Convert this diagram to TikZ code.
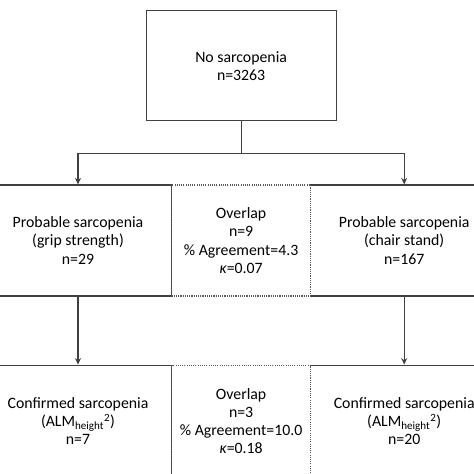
\documentclass[tikz,border=0pt]{standalone}
\usepackage{fontspec}
\setmainfont{Carlito}
\usepackage{tikz}
\usetikzlibrary{arrows.meta, positioning, calc}
\tikzset{every node/.append style={align=center, inner sep=3pt}}

\begin{document}
\begin{tikzpicture}[
    x=1pt, y=1pt,
    box/.style={rectangle, draw=black!75, fill=white, line width=1.2pt,
        minimum width=188pt, minimum height=111pt,
        font=\fontsize{15.8}{18.2}\selectfont},
    ovbox/.style={rectangle, draw=black!65, fill=white, line width=1.2pt,
        dash pattern=on 1.1pt off 1.1pt, minimum width=139pt, minimum height=111pt,
        font=\fontsize{15.8}{18.2}\selectfont},
    line/.style={line width=1.2pt, black!75},
    arr/.style={-{Stealth[length=6.5pt, width=6pt]}, line width=1.2pt, black!75}
]
\useasboundingbox (0,0) rectangle (474,474);
\clip (0,0) rectangle (474,474);
% probable sarcopenia (middle row)
\node[box] (pgrip) at (78,233.5) {Probable sarcopenia\\(grip strength)\\n=29};
\node[box, right=137pt of pgrip] (pchair) {Probable sarcopenia\\(chair stand)\\n=167};
\node[ovbox] (ovprob) at ($(pgrip.east)!0.5!(pchair.west)$)
    {Overlap\\n=9\\\% Agreement=4.3\\\textit{κ}=0.07};
% no sarcopenia (top)
\node[box, minimum width=190pt, minimum height=110pt, above=63pt of ovprob] (nosarc)
    {No sarcopenia\\n=3263};
% confirmed sarcopenia (bottom row)
\node[box, minimum height=112pt, below=68pt of pgrip] (cgrip)
    {Confirmed sarcopenia\\(ALM\textsubscript{height}\textsuperscript{2})\\n=7};
\node[box, minimum height=112pt, below=68pt of pchair] (cchair)
    {Confirmed sarcopenia\\(ALM\textsubscript{height}\textsuperscript{2})\\n=20};
\node[ovbox, minimum height=112pt] (ovconf) at ($(cgrip.east)!0.5!(cchair.west)$)
    {Overlap\\n=3\\\% Agreement=10.0\\\textit{κ}=0.18};
% connectors
\coordinate (split) at ($(nosarc.south)+(0,-32)$);
\draw[line] (nosarc.south) -- (split);
\draw[arr] (split) -| (pgrip.north);
\draw[arr] (split) -| (pchair.north);
\draw[arr] (pgrip) -- (cgrip);
\draw[arr] (pchair) -- (cchair);
\end{tikzpicture}
\end{document}
